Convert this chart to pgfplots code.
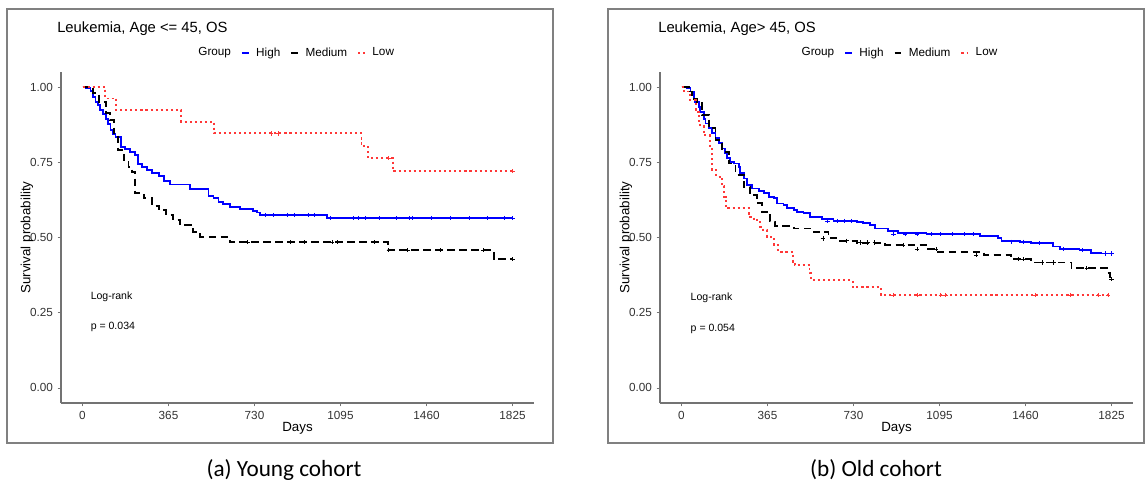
\documentclass[border=0pt]{standalone}
\usepackage{fontspec}
\setmainfont{Liberation Sans}
\newfontfamily\capfont{Carlito}
\usepackage{pgfplots}
\pgfplotsset{compat=1.18}
\definecolor{lowred}{RGB}{255,55,55}

\pgfplotsset{
 kmaxis/.style={
  scale only axis, width=354.75pt, height=248.25pt,
  xmin=-91.25, xmax=1916.25, ymin=-0.05, ymax=1.05,
  axis x line*=bottom, axis y line*=left,
  axis line style={black!55, line width=0.9pt},
  xtick={0,365,730,1095,1460,1825}, xticklabels={0,365,730,1095,1460,1825},
  ytick={0,0.25,0.5,0.75,1}, yticklabels={0.00,0.25,0.50,0.75,1.00},
  tick align=outside, major tick length=2.5pt,
  tick style={black!55, line width=0.6pt},
  ticklabel style={font=\fontsize{8.8}{10}\selectfont, text=black!80},
  xlabel={Days}, ylabel={Survival probability},
  label style={font=\fontsize{8.8}{10}\selectfont},
  every axis x label/.style={at={(axis description cs:0.5,-0.0755)}, anchor=center},
  every axis y label/.style={at={(axis description cs:-0.072,0.5)}, anchor=center, rotate=90},
  legend columns=-1,
  legend style={draw=none, fill=none, font=\fontsize{8.8}{10}\selectfont,
    anchor=center, inner sep=0pt,
    /tikz/every even column/.append style={column sep=5.5pt},
    /tikz/every odd column/.append style={column sep=3pt}},
  legend image code/.code={\draw[#1] (0pt,0pt) -- (5pt,0pt);},
 },
 high/.style={blue, line width=1.4pt, const plot},
 med/.style={black, line width=1.4pt, dash pattern=on 5.5pt off 3.5pt, const plot},
 low/.style={lowred, line width=1.4pt, dash pattern=on 1.6pt off 2.2pt, const plot},
 cens/.style={only marks, mark=+, mark size=1.6pt, forget plot, mark options={solid, line width=0.5pt}},
}

\begin{document}
\begin{tikzpicture}[x=0.75pt,y=0.75pt]
\path[use as bounding box] (0,0) rectangle (1145,487);
% frames
\draw[black!50, line width=1.5pt] (7,44) rectangle (553,478);
\draw[black!50, line width=1.5pt] (607.5,44) rectangle (1144,478);
% titles
\node[anchor=west, font=\fontsize{11.1}{13}\selectfont, inner sep=0pt] at (57,458) {Leukemia, Age <= 45, OS};
\node[anchor=west, font=\fontsize{11.1}{13}\selectfont, inner sep=0pt] at (658,458) {Leukemia, Age> 45, OS};
% captions
\node[font=\capfont\fontsize{17.4}{20}\selectfont] at (284,17) {(a) Young cohort};
\node[font=\capfont\fontsize{17.4}{20}\selectfont] at (876,17) {(b) Old cohort};

% ---------------- Young cohort ----------------
\begin{axis}[kmaxis, at={(45.75pt,63pt)}, anchor=south west,
  legend style={at={(0.493,1.058)}}]
\addlegendimage{empty legend}
\addplot[high] coordinates {
(0,1) (13,0.996) (34,0.987) (44,0.968) (55,0.951) (66,0.940) (76,0.924)
(87,0.909) (98,0.893) (109,0.877) (119,0.857) (130,0.844) (140,0.835)
(165,0.802) (182,0.794) (203,0.785) (224,0.774) (234,0.743) (253,0.735)
(274,0.724) (295,0.715) (323,0.704) (347,0.688) (373,0.676) (457,0.661)
(535,0.638) (556,0.630) (577,0.619) (598,0.610) (626,0.602) (669,0.594)
(725,0.588) (739,0.583) (753,0.575) (1036,0.564) (1825,0.564)};
\addplot[med] coordinates {
(0,1) (45,0.979) (70,0.951) (100,0.913) (115,0.890) (133,0.846) (150,0.791)
(175,0.757) (195,0.735) (210,0.719) (222,0.647) (260,0.630) (295,0.605)
(325,0.591) (355,0.575) (385,0.558) (415,0.541) (470,0.519) (500,0.503)
(625,0.484) (1295,0.458) (1745,0.428) (1825,0.428)};
\addplot[low] coordinates {
(0,1) (97,0.962) (144,0.923) (419,0.885) (559,0.846) (1184,0.805)
(1212,0.763) (1318,0.720) (1825,0.720)};
\addplot[cens, blue] coordinates {
(775,0.575) (810,0.575) (870,0.575) (900,0.575) (960,0.575) (985,0.575)
(1050,0.564) (1150,0.564) (1170,0.564) (1200,0.564) (1260,0.564) (1330,0.564)
(1385,0.564) (1400,0.564) (1480,0.564) (1560,0.564) (1640,0.564) (1720,0.564)
(1790,0.564) (1825,0.564)};
\addplot[cens, black] coordinates {
(700,0.484) (880,0.484) (940,0.484) (1060,0.484) (1080,0.484) (1240,0.484)
(1300,0.458) (1380,0.458) (1520,0.458) (1700,0.458) (1825,0.428)};
\addplot[cens, lowred] coordinates {(800,0.846) (830,0.846) (1300,0.763) (1825,0.720)};
\legend{Group, High, Medium, Low}
\node[anchor=west, font=\fontsize{7.9}{10}\selectfont, inner sep=0pt] at (axis cs:34,0.302) {Log-rank};
\node[anchor=west, font=\fontsize{7.9}{10}\selectfont, inner sep=0pt] at (axis cs:34,0.203) {p = 0.034};
\end{axis}

% ---------------- Old cohort ----------------
\begin{axis}[kmaxis, at={(495pt,63pt)}, anchor=south west,
  legend style={at={(0.502,1.058)}}]
\addlegendimage{empty legend}
\addplot[high] coordinates {
(0,1) (24,0.996) (38,0.985) (52,0.962) (59,0.951) (73,0.935) (80,0.918)
(95,0.893) (102,0.879) (116,0.863) (130,0.846) (144,0.830) (158,0.813)
(172,0.796) (186,0.780) (193,0.763) (207,0.752) (221,0.746) (243,0.735)
(250,0.713) (264,0.696) (278,0.674) (299,0.663) (328,0.655) (349,0.647)
(370,0.636) (391,0.630) (405,0.613) (433,0.608) (447,0.597) (476,0.591)
(490,0.586) (518,0.580) (546,0.569) (596,0.561) (645,0.555) (744,0.552)
(772,0.547) (800,0.541) (821,0.530) (878,0.521) (920,0.514) (1040,0.511)
(1266,0.506) (1344,0.497) (1358,0.489) (1435,0.486) (1485,0.481)
(1576,0.470) (1605,0.462) (1689,0.458) (1739,0.449) (1780,0.447) (1825,0.447)};
\addplot[med] coordinates {
(0,1) (30,0.985) (45,0.960) (66,0.946) (87,0.907) (116,0.863) (144,0.824)
(172,0.785) (200,0.746) (229,0.708) (264,0.669) (292,0.641) (320,0.614)
(341,0.586) (377,0.553) (398,0.538) (476,0.530) (560,0.517) (624,0.497)
(673,0.489) (744,0.483) (864,0.475) (1047,0.462) (1087,0.453) (1284,0.442)
(1400,0.428) (1482,0.417) (1655,0.398) (1805,0.382) (1820,0.361) (1825,0.361)};
\addplot[low] coordinates {
(0,1) (10,0.985) (35,0.957) (60,0.918) (75,0.874) (95,0.840) (120,0.800)
(128,0.724) (148,0.702) (172,0.670) (182,0.636) (188,0.597) (285,0.569)
(306,0.558) (334,0.536) (345,0.525) (362,0.503) (391,0.475) (408,0.453)
(472,0.420) (480,0.409) (543,0.381) (548,0.359) (726,0.335) (845,0.309)
(1825,0.309)};
\addplot[cens, blue] coordinates {
(620,0.555) (660,0.555) (690,0.555) (720,0.555) (900,0.511) (950,0.511)
(1000,0.511) (1060,0.511) (1100,0.511) (1150,0.511) (1200,0.511) (1240,0.511)
(1400,0.486) (1450,0.486) (1520,0.481) (1620,0.462) (1700,0.458)
(1800,0.447) (1825,0.447)};
\addplot[cens, black] coordinates {
(600,0.497) (700,0.489) (760,0.483) (790,0.483) (820,0.483) (940,0.475)
(1000,0.462) (1080,0.462) (1250,0.442) (1430,0.428) (1450,0.428)
(1530,0.417) (1580,0.417) (1720,0.398) (1825,0.361)};
\addplot[cens, lowred] coordinates {
(900,0.309) (1000,0.309) (1100,0.309) (1120,0.309) (1500,0.309)
(1650,0.309) (1770,0.309) (1810,0.309)};
\legend{Group, High, Medium, Low}
\node[anchor=west, font=\fontsize{7.9}{10}\selectfont, inner sep=0pt] at (axis cs:38,0.299) {Log-rank};
\node[anchor=west, font=\fontsize{7.9}{10}\selectfont, inner sep=0pt] at (axis cs:38,0.196) {p = 0.054};
\end{axis}
\end{tikzpicture}
\end{document}
